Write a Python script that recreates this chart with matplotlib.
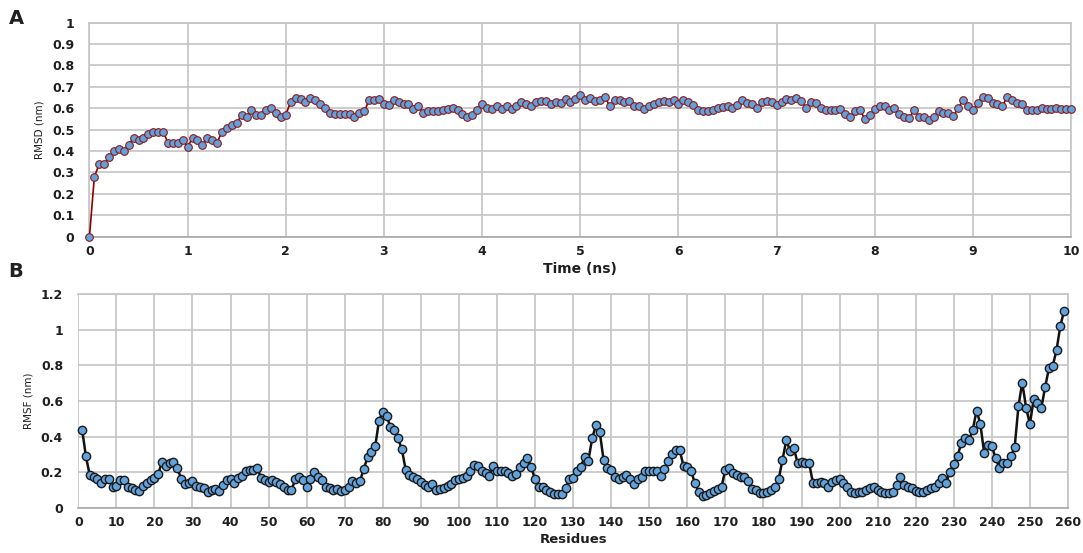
import matplotlib
matplotlib.use("Agg")
import matplotlib.pyplot as plt
import numpy as np

# A : RMSD over time (one frame every 0.05 ns)
time_ns = np.arange(201) * 0.05
rmsd = [
    0, 0.28, 0.34, 0.34, 0.37, 0.40, 0.41, 0.40, 0.43, 0.46, 0.45,
    0.46, 0.48, 0.49, 0.49, 0.49, 0.44, 0.44, 0.44, 0.45, 0.42,
    0.46, 0.45, 0.43, 0.46, 0.45, 0.44, 0.49, 0.51, 0.52, 0.53,
    0.57, 0.56, 0.59, 0.57, 0.57, 0.59, 0.60, 0.58, 0.56, 0.57,
    0.63, 0.65, 0.645, 0.63, 0.65, 0.64, 0.62, 0.60, 0.58, 0.575,
    0.575, 0.575, 0.575, 0.56, 0.58, 0.585, 0.64, 0.64, 0.645, 0.62,
    0.615, 0.64, 0.63, 0.62, 0.62, 0.595, 0.61, 0.58, 0.585, 0.585,
    0.585, 0.59, 0.595, 0.60, 0.59, 0.575, 0.56, 0.57, 0.59, 0.62,
    0.60, 0.595, 0.61, 0.595, 0.61, 0.595, 0.61, 0.63, 0.62, 0.61,
    0.63, 0.635, 0.635, 0.62, 0.63, 0.625, 0.645, 0.63, 0.645, 0.66,
    0.64, 0.65, 0.635, 0.64, 0.655, 0.61, 0.64, 0.64, 0.63, 0.635,
    0.61, 0.61, 0.595, 0.61, 0.62, 0.63, 0.635, 0.63, 0.64, 0.62,
    0.64, 0.63, 0.615, 0.59, 0.585, 0.585, 0.59, 0.60, 0.605, 0.61,
    0.60, 0.615, 0.64, 0.625, 0.62, 0.60, 0.63, 0.635, 0.63, 0.615,
    0.63, 0.645, 0.64, 0.65, 0.635, 0.60, 0.63, 0.625, 0.60, 0.59,
    0.59, 0.59, 0.595, 0.575, 0.56, 0.585, 0.59, 0.55, 0.57, 0.595,
    0.61, 0.61, 0.59, 0.60, 0.575, 0.56, 0.555, 0.59, 0.56, 0.56,
    0.545, 0.56, 0.585, 0.58, 0.58, 0.565, 0.60, 0.64, 0.61, 0.59,
    0.625, 0.655, 0.65, 0.625, 0.62, 0.61, 0.655, 0.64, 0.625, 0.62,
    0.59, 0.59, 0.59, 0.60, 0.595, 0.595, 0.60, 0.595, 0.595, 0.595,
]

# B : RMSF per residue (1..259)
residues = np.arange(1, 260)
rmsf = [
    0.44, 0.29, 0.185, 0.175, 0.16, 0.14, 0.165, 0.16, 0.12, 0.125,
    0.155, 0.155, 0.12, 0.11, 0.10, 0.095, 0.125, 0.14, 0.155, 0.17,
    0.19, 0.26, 0.235, 0.25, 0.26, 0.225, 0.165, 0.135, 0.14, 0.15,
    0.125, 0.12, 0.11, 0.09, 0.10, 0.105, 0.095, 0.13, 0.155, 0.16,
    0.14, 0.17, 0.18, 0.21, 0.215, 0.215, 0.225, 0.17, 0.155, 0.145,
    0.155, 0.145, 0.135, 0.12, 0.10, 0.10, 0.16, 0.175, 0.155, 0.115,
    0.16, 0.20, 0.175, 0.155, 0.12, 0.11, 0.10, 0.105, 0.095, 0.10,
    0.12, 0.15, 0.14, 0.15, 0.22, 0.285, 0.315, 0.345, 0.49, 0.54,
    0.515, 0.455, 0.44, 0.39, 0.33, 0.215, 0.185, 0.176, 0.16, 0.145,
    0.13, 0.12, 0.135, 0.10, 0.105, 0.11, 0.125, 0.135, 0.155, 0.16,
    0.17, 0.18, 0.21, 0.24, 0.235, 0.21, 0.195, 0.18, 0.235, 0.21,
    0.205, 0.21, 0.195, 0.18, 0.19, 0.23, 0.255, 0.28, 0.23, 0.16,
    0.115, 0.115, 0.10, 0.09, 0.08, 0.078, 0.078, 0.11, 0.16, 0.17,
    0.205, 0.23, 0.285, 0.265, 0.39, 0.465, 0.425, 0.27, 0.225, 0.215,
    0.175, 0.16, 0.175, 0.185, 0.16, 0.135, 0.16, 0.175, 0.205, 0.21,
    0.205, 0.21, 0.18, 0.22, 0.265, 0.30, 0.325, 0.325, 0.235, 0.23,
    0.205, 0.14, 0.09, 0.068, 0.072, 0.082, 0.095, 0.105, 0.12, 0.215,
    0.225, 0.198, 0.185, 0.172, 0.176, 0.153, 0.105, 0.10, 0.085, 0.082,
    0.092, 0.10, 0.116, 0.16, 0.27, 0.38, 0.32, 0.335, 0.25, 0.26,
    0.255, 0.25, 0.142, 0.138, 0.148, 0.142, 0.12, 0.148, 0.157, 0.16,
    0.142, 0.12, 0.092, 0.086, 0.09, 0.092, 0.10, 0.11, 0.12, 0.10,
    0.092, 0.085, 0.082, 0.092, 0.13, 0.172, 0.13, 0.12, 0.11, 0.095,
    0.092, 0.092, 0.10, 0.11, 0.12, 0.142, 0.166, 0.142, 0.204, 0.247,
    0.29, 0.366, 0.39, 0.38, 0.44, 0.546, 0.47, 0.306, 0.353, 0.348,
    0.278, 0.226, 0.254, 0.25, 0.29, 0.34, 0.572, 0.703, 0.563, 0.47,
    0.61, 0.587, 0.56, 0.677, 0.783, 0.796, 0.886, 1.02, 1.107,
]

grid_col = '#c4c4c4'
txt_col = '#1e1e1e'

fig = plt.figure(figsize=(10.83, 5.53), dpi=100)

def style_axes(ax):
    ax.grid(True, color=grid_col, linewidth=1.2)
    ax.set_axisbelow(True)
    for s in ax.spines.values():
        s.set_color(grid_col)
        s.set_linewidth(1.2)
    ax.spines['bottom'].set_color('#a8a8a8')
    ax.tick_params(length=0, labelsize=9, colors=txt_col)
    ax.tick_params(axis='x', pad=6)
    ax.tick_params(axis='y', pad=11)
    for lab in ax.get_xticklabels() + ax.get_yticklabels():
        lab.set_fontweight('bold')

# panel A
ax1 = fig.add_axes([0.0826, 0.572, 0.9064, 0.387])
ax1.plot(time_ns, rmsd, '-o', color='#8b0000', lw=1.2, ms=5.5,
         mfc='#62a2dc', mec='#8b1a1a', mew=0.8, clip_on=False, zorder=3)
ax1.set_xlim(0, 10)
ax1.set_ylim(0, 1)
ax1.set_xticks(np.arange(0, 11, 1))
ax1.set_yticks(np.round(np.arange(0, 1.01, 0.1), 1))
ax1.set_yticklabels([f'{v:g}' for v in np.round(np.arange(0, 1.01, 0.1), 1)])
style_axes(ax1)
ax1.set_xlabel('Time (ns)', fontsize=10, fontweight='bold', color=txt_col, labelpad=3)
ax1.set_ylabel('RMSD (nm)', fontsize=7.5, color=txt_col, labelpad=5)

# panel B
ax2 = fig.add_axes([0.0723, 0.0814, 0.9138, 0.387])
ax2.plot(residues, rmsf, '-o', color='#111111', lw=1.8, ms=6,
         mfc='#62a2dc', mec='#1a1a1a', mew=1.0, clip_on=False, zorder=3)
ax2.set_xlim(0, 260)
ax2.set_ylim(0, 1.2)
ax2.set_xticks(np.arange(0, 261, 10))
yt = np.round(np.arange(0, 1.21, 0.2), 1)
ax2.set_yticks(yt)
ax2.set_yticklabels([f'{v:g}' for v in yt])
style_axes(ax2)
ax2.spines['left'].set_visible(False)
ax2.set_xlabel('Residues', fontsize=9.5, fontweight='bold', color=txt_col, labelpad=3)
ax2.set_ylabel('RMSF (nm)', fontsize=7.5, color=txt_col, labelpad=5)

fig.text(0.008, 0.957, 'A', fontsize=14, fontweight='bold', color='#202020')
fig.text(0.008, 0.499, 'B', fontsize=14, fontweight='bold', color='#202020')

fig.savefig('out.png', dpi=100)
